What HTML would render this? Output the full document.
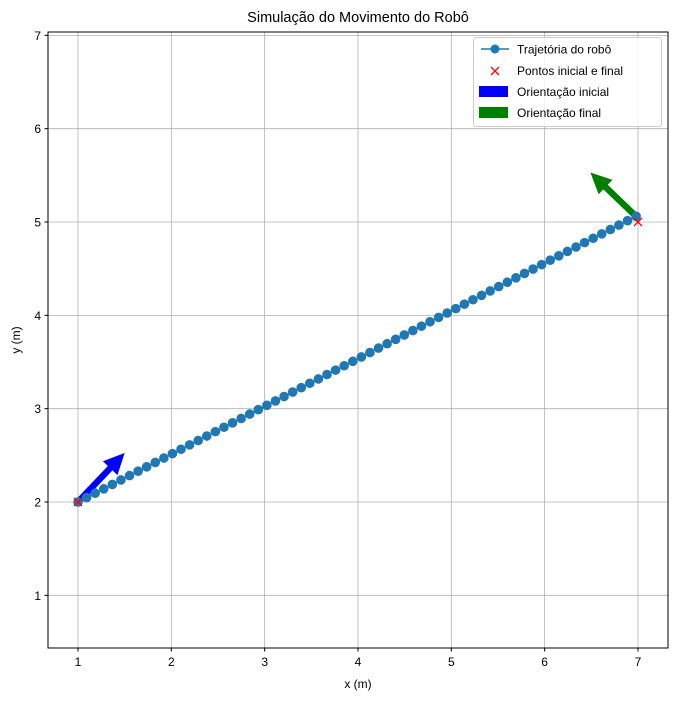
<!DOCTYPE html>
<html><head><meta charset="utf-8"><style>
body{margin:0;background:#fff;}
svg text{font-family:"Liberation Sans","DejaVu Sans",sans-serif;fill:#000;}
</style></head><body>
<svg id="chart" width="678" height="700" xmlns="http://www.w3.org/2000/svg">
<rect x="0" y="0" width="678" height="700" fill="#fff"/>
<g id="grid"></g>
<g id="ticks"></g>
<g id="arrows"></g>
<g id="series"></g>
<rect x="48" y="32" width="620" height="616" fill="none" stroke="#000" stroke-width="1"/>
<text x="358" y="22" font-size="14.5" text-anchor="middle">Simulação do Movimento do Robô</text>
<text x="358" y="688" font-size="12" text-anchor="middle">x (m)</text>
<text x="20" y="340" font-size="12" text-anchor="middle" transform="rotate(-90 20 340)">y (m)</text>
<g>
<rect x="473.5" y="37.5" width="188" height="89" rx="3" fill="#fff" fill-opacity="0.8" stroke="#ccc"/>
<g>
<line x1="481" y1="49" x2="509" y2="49" stroke="#1f77b4" stroke-width="1.5"/>
<circle cx="495" cy="49" r="4.5" fill="#1f77b4"/>
<text x="517" y="53.5" font-size="12">Trajetória do robô</text></g>
<g>
<path d="M491,67L499,75M491,75L499,67" stroke="red" stroke-width="1.3"/>
<text x="517" y="75" font-size="12">Pontos inicial e final</text></g>
<g>
<rect x="479" y="86" width="29" height="11" fill="blue"/>
<text x="517" y="96" font-size="12">Orientação inicial</text></g>
<g>
<rect x="479" y="107" width="29" height="11" fill="green"/>
<text x="517" y="117" font-size="12">Orientação final</text></g>
</g>
</svg>
<script>
const xTicks=[1,2,3,4,5,6,7];
const yTicks=[1,2,3,4,5,6,7];
const pathX=[1.000,1.092,1.184,1.276,1.368,1.460,1.552,1.644,1.736,1.828,1.920,2.012,2.104,2.196,2.288,2.380,2.472,2.564,2.656,2.748,2.840,2.932,3.024,3.116,3.208,3.300,3.392,3.484,3.576,3.668,3.760,3.852,3.944,4.036,4.128,4.220,4.312,4.404,4.496,4.588,4.680,4.772,4.864,4.956,5.048,5.140,5.232,5.324,5.416,5.508,5.600,5.692,5.784,5.876,5.968,6.060,6.152,6.244,6.336,6.428,6.520,6.612,6.704,6.796,6.888,6.980];
const pathY=[2.000,2.047,2.094,2.141,2.188,2.236,2.283,2.330,2.377,2.424,2.471,2.518,2.565,2.612,2.659,2.707,2.754,2.801,2.848,2.895,2.942,2.989,3.036,3.083,3.130,3.178,3.225,3.272,3.319,3.366,3.413,3.460,3.507,3.554,3.601,3.649,3.696,3.743,3.790,3.837,3.884,3.931,3.978,4.025,4.072,4.120,4.167,4.214,4.261,4.308,4.355,4.402,4.449,4.496,4.543,4.591,4.638,4.685,4.732,4.779,4.826,4.873,4.920,4.967,5.014,5.061];
const endpointX=[1,7];
const endpointY=[2,5];
const arrowStartX=[1,6.98];
const arrowStartY=[2,5.06];
const arrowEndX=[1.5,6.49];
const arrowEndY=[2.525,5.53];
const arrowColors=['blue','green'];

const NS='http://www.w3.org/2000/svg';
const sx=v=>78+(v-1)*93.33;
const sy=v=>502-(v-2)*93.33;
function mk(tag,attrs,parent){const e=document.createElementNS(NS,tag);for(const k in attrs)e.setAttribute(k,attrs[k]);parent.appendChild(e);return e;}
const grid=document.getElementById('grid'),ticks=document.getElementById('ticks');
xTicks.forEach(t=>{
  const g=mk('line',{x1:sx(t),x2:sx(t),y1:32,y2:648,stroke:'#b0b0b0','stroke-width':0.8},grid);
  
  
  mk('line',{x1:sx(t),x2:sx(t),y1:648,y2:651.5,stroke:'#000'},ticks);
  const tx=mk('text',{x:sx(t),y:666,'font-size':12,'text-anchor':'middle'},ticks);
  tx.textContent=t;
  
  
});
yTicks.forEach(t=>{
  const g=mk('line',{x1:48,x2:668,y1:sy(t),y2:sy(t),stroke:'#b0b0b0','stroke-width':0.8},grid);
  
  
  mk('line',{x1:44.5,x2:48,y1:sy(t),y2:sy(t),stroke:'#000'},ticks);
  const tx=mk('text',{x:41,y:sy(t)+4.5,'font-size':12,'text-anchor':'end'},ticks);
  tx.textContent=t;
  
  
});
const arrows=document.getElementById('arrows');
arrowStartX.forEach((_,i)=>{
  const x0=sx(arrowStartX[i]),y0=sy(arrowStartY[i]),x1=sx(arrowEndX[i]),y1=sy(arrowEndY[i]);
  const dx=x1-x0,dy=y1-y0,L=Math.hypot(dx,dy),ux=dx/L,uy=dy/L,nx=-uy,ny=ux;
  const w=3.2,hw=10,hl=21,bx=x1-ux*hl,by=y1-uy*hl;
  const pts=[[x0+nx*w,y0+ny*w],[bx+nx*w,by+ny*w],[bx+nx*hw,by+ny*hw],[x1,y1],[bx-nx*hw,by-ny*hw],[bx-nx*w,by-ny*w],[x0-nx*w,y0-ny*w]];
  const p=mk('polygon',{points:pts.map(q=>q.join(',')).join(' '),fill:arrowColors[i]},arrows);
  
  
});
const series=document.getElementById('series');
const line=mk('polyline',{points:pathX.map((x,i)=>sx(x)+','+sy(pathY[i])).join(' '),fill:'none',stroke:'#1f77b4','stroke-width':1.5},series);


pathX.forEach((x,i)=>{
  const c=mk('circle',{cx:sx(x),cy:sy(pathY[i]),r:4.8,fill:'#1f77b4'},series);
  
  
});
endpointX.forEach((x,i)=>{
  const cx=sx(x),cy=sy(endpointY[i]);
  const g=mk('path',{d:`M${cx-4},${cy-4}L${cx+4},${cy+4}M${cx-4},${cy+4}L${cx+4},${cy-4}`,stroke:'red','stroke-width':1.3,fill:'none'},series);
  
  
});
</script>
</body></html>
